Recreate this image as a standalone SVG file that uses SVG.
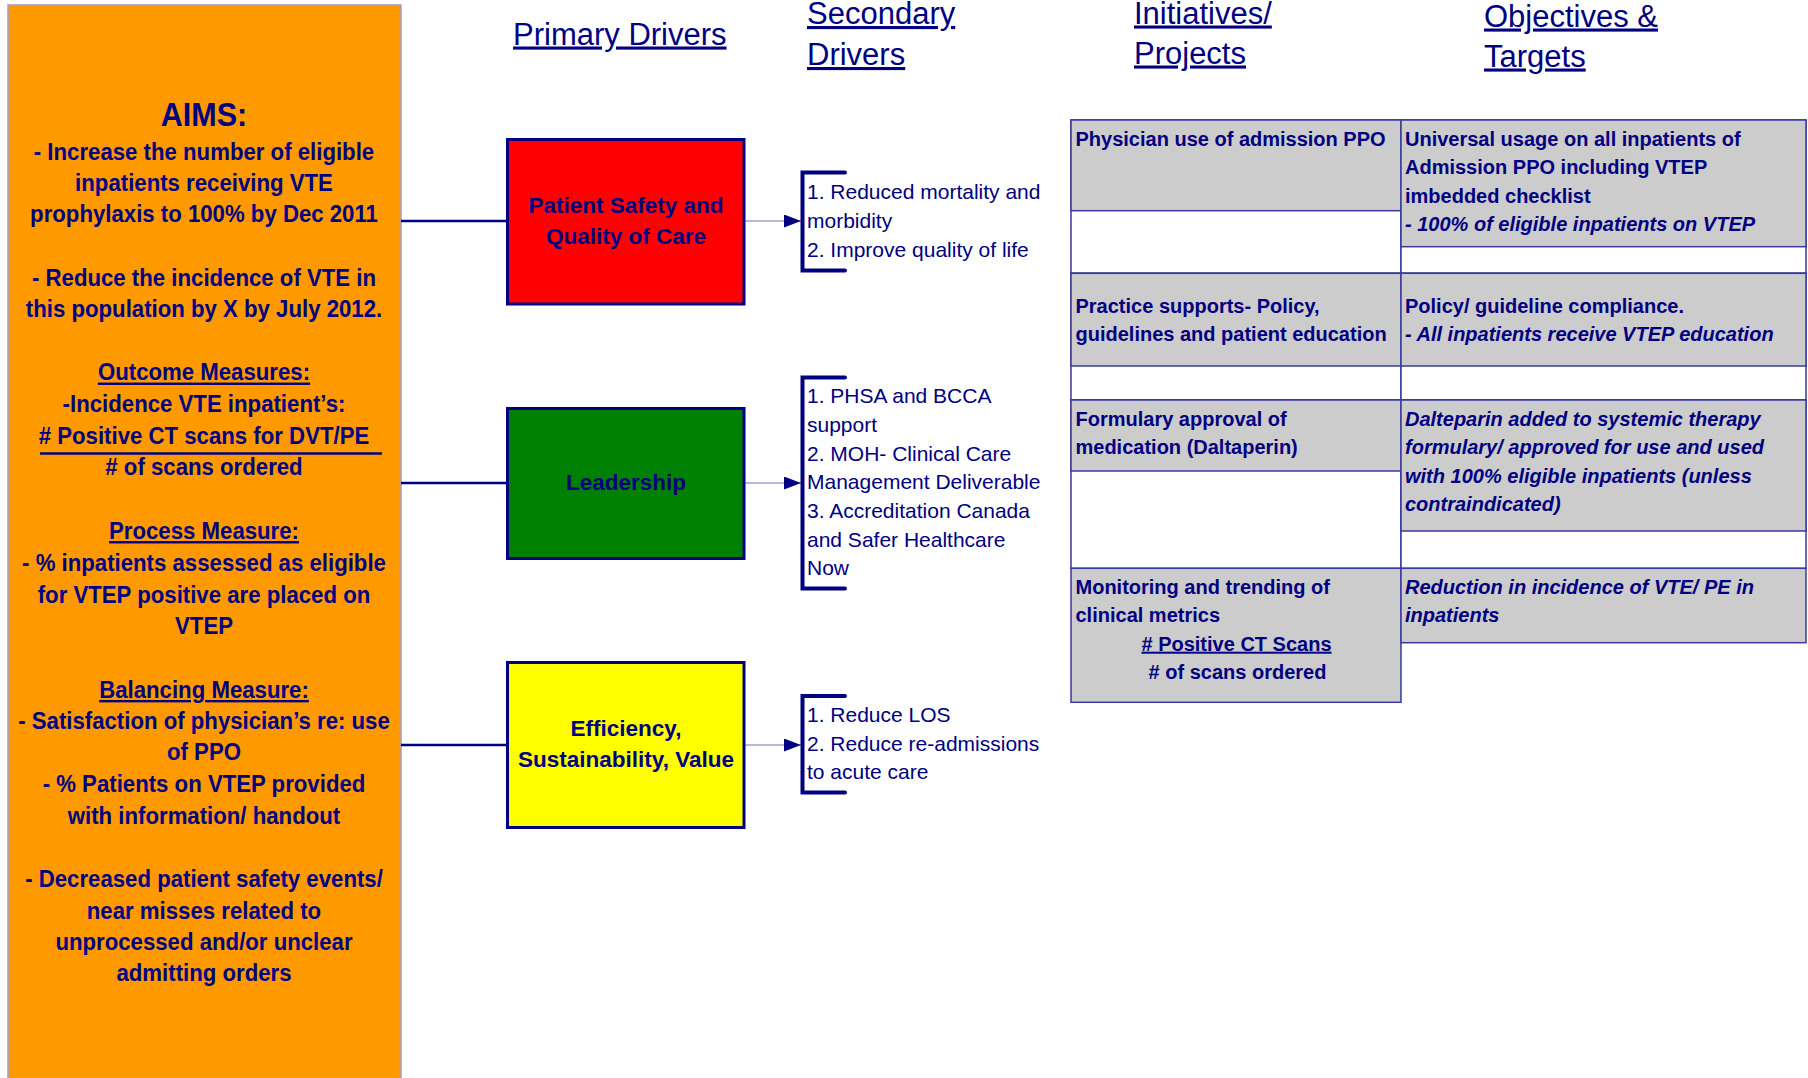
<svg xmlns="http://www.w3.org/2000/svg" width="1808" height="1078" viewBox="0 0 1808 1078">
<defs>
<style>
.aim{font-family:"Liberation Sans",Arial,sans-serif;font-weight:bold;font-size:24px;fill:#000080;text-anchor:middle;}
.hd{font-family:"Liberation Sans",Arial,sans-serif;font-size:31px;fill:#000080;text-decoration:underline;}
.pd{font-family:"Liberation Sans",Arial,sans-serif;font-weight:bold;font-size:22.5px;fill:#000080;text-anchor:middle;}
.sd{font-family:"Liberation Sans",Arial,sans-serif;font-size:21px;fill:#000080;}
.tb{font-family:"Liberation Sans",Arial,sans-serif;font-weight:bold;font-size:20px;fill:#000080;}
.it{font-style:italic;}
.box{stroke:#000080;stroke-width:3;}
.gray{fill:#CCCCCC;stroke:#3A3A9A;stroke-width:1.5;}
.white{fill:#FFFFFF;stroke:#3A3A9A;stroke-width:1.5;}
.brk{fill:none;stroke:#000080;stroke-width:4;stroke-linecap:round;}
.main{stroke:#000080;stroke-width:2.5;fill:none;}
.thin{stroke:#A0A0D0;stroke-width:1.5;fill:none;}
</style>
<marker id="arr" markerUnits="userSpaceOnUse" markerWidth="18" markerHeight="14" refX="17" refY="6.5" orient="auto">
<path d="M0,0 L17,6.5 L0,13 z" fill="#000080"/>
</marker>
</defs>
<rect width="1808" height="1078" fill="#FFFFFF"/>

<g id="aims">
<rect x="8" y="5" width="393" height="1090" fill="#FF9900" stroke="#A0A0C8" stroke-width="1.5"/>
<line x1="40" y1="453.5" x2="382" y2="453.5" stroke="#000080" stroke-width="2.5"/>
<g transform="translate(204,0) scale(0.925,1)">
<text class="aim" x="0" y="125.7" style="font-size:33px">AIMS:</text>
<text class="aim" x="0" y="160">- Increase the number of eligible</text>
<text class="aim" x="0" y="191">inpatients receiving VTE</text>
<text class="aim" x="0" y="222">prophylaxis to 100% by Dec 2011</text>
<text class="aim" x="0" y="285.8">- Reduce the incidence of VTE in</text>
<text class="aim" x="0" y="316.8">this population by X by July 2012.</text>
<text class="aim" x="0" y="380.5" text-decoration="underline">Outcome Measures:</text>
<text class="aim" x="0" y="412.2">-Incidence VTE inpatient’s:</text>
<text class="aim" x="0" y="444.2"># Positive CT scans for DVT/PE</text>
<text class="aim" x="0" y="475.2"># of scans ordered</text>
<text class="aim" x="0" y="539" text-decoration="underline">Process Measure:</text>
<text class="aim" x="0" y="570.9">- % inpatients assessed as eligible</text>
<text class="aim" x="0" y="602.8">for VTEP positive are placed on</text>
<text class="aim" x="0" y="634.4">VTEP</text>
<text class="aim" x="0" y="697.9" text-decoration="underline">Balancing Measure:</text>
<text class="aim" x="0" y="728.7">- Satisfaction of physician’s re: use</text>
<text class="aim" x="0" y="759.6">of PPO</text>
<text class="aim" x="0" y="792.2">- % Patients on VTEP provided</text>
<text class="aim" x="0" y="824.1">with information/ handout</text>
<text class="aim" x="0" y="886.6">- Decreased patient safety events/</text>
<text class="aim" x="0" y="919.2">near misses related to</text>
<text class="aim" x="0" y="950.1">unprocessed and/or unclear</text>
<text class="aim" x="0" y="981">admitting orders</text>
</g>
</g>

<g id="headings">
<text class="hd" x="513" y="44.5">Primary Drivers</text>
<text class="hd" x="807" y="24">Secondary</text>
<text class="hd" x="807" y="65">Drivers</text>
<text class="hd" x="1134" y="23.5">Initiatives/</text>
<text class="hd" x="1134" y="63.5">Projects</text>
<text class="hd" x="1484" y="26.5">Objectives &amp;</text>
<text class="hd" x="1484" y="66.5">Targets</text>
</g>

<g id="connectors">
<line class="main" x1="401" y1="221" x2="507.5" y2="221"/>
<line class="main" x1="401" y1="483" x2="507.5" y2="483"/>
<line class="main" x1="401" y1="745" x2="507.5" y2="745"/>
<line class="thin" x1="744" y1="221" x2="801" y2="221" marker-end="url(#arr)"/>
<line class="thin" x1="744" y1="483" x2="801" y2="483" marker-end="url(#arr)"/>
<line class="thin" x1="744" y1="745" x2="801" y2="745" marker-end="url(#arr)"/>
</g>

<g id="pd-safety">
<rect class="box" x="507.5" y="139.5" width="236.5" height="164.5" fill="#FF0000"/>
<text class="pd" x="626" y="213.3">Patient Safety and</text>
<text class="pd" x="626" y="244.3">Quality of Care</text>
</g>
<g id="pd-leadership">
<rect class="box" x="507.5" y="408.5" width="236.5" height="150" fill="#008000"/>
<text class="pd" x="626" y="490">Leadership</text>
</g>
<g id="pd-efficiency">
<rect class="box" x="507.5" y="662.5" width="236.5" height="165" fill="#FFFF00"/>
<text class="pd" x="626" y="736">Efficiency,</text>
<text class="pd" x="626" y="767.3">Sustainability, Value</text>
</g>

<g id="sd-safety">
<path class="brk" d="M845,172.5 H802.5 V270.5 H845"/>
<text class="sd" x="807" y="199">1. Reduced mortality and</text>
<text class="sd" x="807" y="228">morbidity</text>
<text class="sd" x="807" y="257">2. Improve quality of life</text>
</g>
<g id="sd-leadership">
<path class="brk" d="M845,377.5 H802.5 V588.5 H845"/>
<text class="sd" x="807" y="403.3">1. PHSA and BCCA</text>
<text class="sd" x="807" y="432">support</text>
<text class="sd" x="807" y="460.7">2. MOH- Clinical Care</text>
<text class="sd" x="807" y="489.3">Management Deliverable</text>
<text class="sd" x="807" y="518">3. Accreditation Canada</text>
<text class="sd" x="807" y="546.7">and Safer Healthcare</text>
<text class="sd" x="807" y="575.3">Now</text>
</g>
<g id="sd-efficiency">
<path class="brk" d="M845,696 H802.5 V792.5 H845"/>
<text class="sd" x="807" y="721.7">1. Reduce LOS</text>
<text class="sd" x="807" y="750.5">2. Reduce re-admissions</text>
<text class="sd" x="807" y="779.3">to acute care</text>
</g>

<g id="row1">
<rect class="white" x="1071" y="120" width="330" height="153.3"/>
<rect class="white" x="1401" y="120" width="405" height="153.3"/>
<rect class="gray" x="1071" y="120" width="330" height="90.7"/>
<rect class="gray" x="1401" y="120" width="405" height="126.7"/>
<text class="tb" x="1075.5" y="146">Physician use of admission PPO</text>
<text class="tb" x="1405" y="146">Universal usage on all inpatients of</text>
<text class="tb" x="1405" y="174.3">Admission PPO including VTEP</text>
<text class="tb" x="1405" y="202.5">imbedded checklist</text>
<text class="tb it" x="1405" y="230.7">- 100% of eligible inpatients on VTEP</text>
</g>
<g id="row2">
<rect class="white" x="1071" y="273.3" width="330" height="126.7"/>
<rect class="white" x="1401" y="273.3" width="405" height="126.7"/>
<rect class="gray" x="1071" y="273.3" width="330" height="92.7"/>
<rect class="gray" x="1401" y="273.3" width="405" height="92.7"/>
<text class="tb" x="1075.5" y="312.7">Practice supports- Policy,</text>
<text class="tb" x="1075.5" y="340.7">guidelines and patient education</text>
<text class="tb" x="1405" y="312.7">Policy/ guideline compliance.</text>
<text class="tb it" x="1405" y="340.7">- All inpatients receive VTEP education</text>
</g>
<g id="row3">
<rect class="white" x="1071" y="400" width="330" height="168.3"/>
<rect class="white" x="1401" y="400" width="405" height="168.3"/>
<rect class="gray" x="1071" y="400" width="330" height="71"/>
<rect class="gray" x="1401" y="400" width="405" height="131"/>
<text class="tb" x="1075.5" y="425.7">Formulary approval of</text>
<text class="tb" x="1075.5" y="454">medication (Daltaperin)</text>
<text class="tb it" x="1405" y="425.7">Dalteparin added to systemic therapy</text>
<text class="tb it" x="1405" y="454">formulary/ approved for use and used</text>
<text class="tb it" x="1405" y="482.5">with 100% eligible inpatients (unless</text>
<text class="tb it" x="1405" y="511">contraindicated)</text>
</g>
<g id="row4">
<rect class="gray" x="1071" y="568.3" width="330" height="134"/>
<rect class="gray" x="1401" y="568.3" width="405" height="74.4"/>
<text class="tb" x="1075.5" y="594">Monitoring and trending of</text>
<text class="tb" x="1075.5" y="622.3">clinical metrics</text>
<text class="tb" x="1236.5" y="650.7" text-anchor="middle" text-decoration="underline"> # Positive CT Scans</text>
<text class="tb" x="1237.5" y="679" text-anchor="middle"># of scans ordered</text>
<text class="tb it" x="1405" y="594">Reduction in incidence of VTE/ PE in</text>
<text class="tb it" x="1405" y="622.3">inpatients</text>
</g>
</svg>
